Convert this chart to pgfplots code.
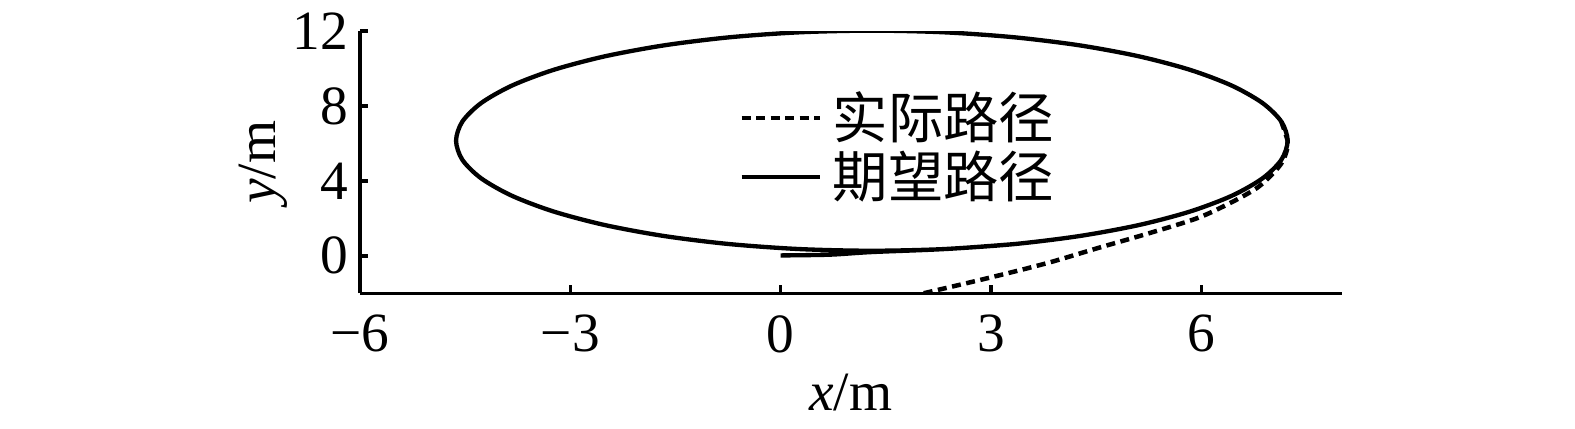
\documentclass[border=0pt]{standalone}
\usepackage{pgfplots}
\pgfplotsset{compat=1.18}
\usepackage{fontspec}
\setmainfont{Liberation Serif}
\newfontfamily\cjk{Noto Sans CJK SC}

\begin{document}
\begin{tikzpicture}[font=\fontsize{16}{19}\selectfont]
\begin{axis}[
    scale only axis,
    width  = 9.972cm,
    height = 2.662cm,
    xmin=-6, xmax=8,
    ymin=-2, ymax=12,
    axis lines*=left,
    axis line style={line width=1pt},
    tick align=inside,
    major tick length=0.085cm,
    tick style={line width=1pt, black},
    xtick={-6,-3,0,3,6},
    xticklabels={−6,−3,0,3,6},
    ytick={0,4,8,12},
    yticklabels={0,4,8,12},
    xticklabel style={yshift=-0.1cm},
    xlabel={\textit{x}/m},
    ylabel={\textit{y}/m},
    xlabel style={at={(axis description cs:0.5,-0.378)}, anchor=center},
    ylabel style={at={(axis description cs:-0.0988,0.5)}, anchor=center},
    legend style={
        at={(axis cs:-0.6,5.8)}, anchor=west,
        draw=none, fill=none, inner sep=0pt,
        nodes={inner sep=1.5pt},
        row sep=-1pt,
        /tikz/every odd column/.append style={column sep=0.05cm},
    },
    legend cell align=left,
    legend image code/.code={\draw[#1] (0cm,0cm) -- (0.8cm,0cm);},
]
% actual path (dotted)
\addplot[black, line width=1.3pt, dash pattern=on 2.6pt off 1.6pt, smooth] coordinates {
    (2.04,-2.0)(3.0,-1.15)(3.8,-0.39)(4.52,0.41)(5.23,1.18)(5.94,2.01)
    (6.41,2.82)(6.79,3.62)(7.02,4.40)(7.16,5.05)(7.23,5.8)(7.23,6.15)
    (7.14,7.17)
};
\addlegendentry{\cjk 实际路径}
% desired path (solid)
\addplot[black, line width=1.25pt, smooth] coordinates {
    (0,0.02)(0.7,0.06)(1.3,0.2)
    (2.329,0.359)(3.328,0.625)(4.265,1.058)(5.112,1.646)(5.842,2.370)
    (6.435,3.21)(6.872,4.139)(7.140,5.129)(7.23,6.15)(7.140,7.171)
    (6.872,8.161)(6.435,9.09)(5.842,9.930)(5.112,10.654)(4.265,11.242)
    (3.328,11.675)(2.329,11.941)(1.3,12.03)(0.271,11.941)(-0.728,11.675)
    (-1.665,11.242)(-2.512,10.654)(-3.242,9.930)(-3.835,9.09)(-4.272,8.161)
    (-4.540,7.171)(-4.63,6.15)(-4.540,5.129)(-4.272,4.139)(-3.835,3.21)
    (-3.242,2.370)(-2.512,1.646)(-1.665,1.058)(-0.728,0.625)(0.271,0.359)
    (1.3,0.27)(2.329,0.359)(3.328,0.625)
};
\addlegendentry{\cjk 期望路径}
\end{axis}
\path (-3.657,-1.379) rectangle (12.343,2.979);
\end{tikzpicture}
\end{document}
